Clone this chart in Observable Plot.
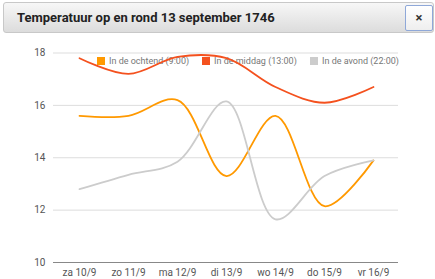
<!DOCTYPE html>
<html><head><meta charset="utf-8">
<script src="https://cdn.jsdelivr.net/npm/d3@7"></script>
<script src="https://cdn.jsdelivr.net/npm/@observablehq/plot@0.6"></script>
<style>
body{margin:0;background:#fff;width:435px;height:279px;overflow:hidden;font-family:Roboto,sans-serif;position:relative}
#hdr{position:absolute;left:3px;top:2px;width:431px;height:31px;border:1px solid #c8c8c8;border-radius:3px;background:linear-gradient(#f7f7f7,#dcdcdc);box-sizing:border-box}
#title{position:absolute;left:13px;top:7px;font-weight:bold;font-size:13px;color:#222}
#close{position:absolute;left:401px;top:2px;width:28px;height:26px;border:1px solid #8fa8d8;border-radius:2px;background:linear-gradient(#fff,#eee);box-sizing:border-box;text-align:center;font-weight:bold;font-size:13px;line-height:24px;color:#333}
#chart{position:absolute;left:0;top:35px}
#legend{position:absolute;top:56px;left:0;font-size:9px;color:#777}
.li{position:absolute;white-space:nowrap}
.sw{display:inline-block;width:8px;height:8px;margin-right:4px;vertical-align:-1px}
</style></head><body>
<div id="hdr"><div id="title">Temperatuur op en rond 13 september 1746</div><div id="close">×</div></div>
<div id="legend"></div>
<div id="chart"></div>
<script>
const days = ["za 10/9","zo 11/9","ma 12/9","di 13/9","wo 14/9","do 15/9","vr 16/9"];
const seriesNames = ["In de ochtend (9:00)","In de middag (13:00)","In de avond (22:00)"];
const seriesColors = ["#ff9900","#f4511e","#cccccc"];
const ochtend = [15.6,15.6,16.2,13.3,15.6,12.15,13.9];
const middag = [17.8,17.2,17.85,17.8,16.7,16.1,16.7];
const avond = [12.8,13.35,13.85,16.15,11.65,13.3,13.9];
const yTicks = [10,12,14,16,18];

const values = [ochtend, middag, avond];
const data = [];
values.forEach((arr,s)=>arr.forEach((v,i)=>data.push({day:days[i],value:v,series:seriesNames[s]})));

const legendX = [97,202,310];
const lg = document.getElementById("legend");
seriesNames.forEach((n,i)=>{
  const d=document.createElement("div");d.className="li";d.style.left=legendX[i]+"px";
  d.innerHTML=`<span class="sw" style="background:${seriesColors[i]}"></span>${n}`;
  lg.appendChild(d);
});

const plot = Plot.plot({
  width:435,height:244,
  marginLeft:53,marginRight:37,marginTop:17.5,marginBottom:17,
  style:{background:"transparent",fontFamily:"Roboto, sans-serif",fontSize:"10px",color:"#555"},
  x:{type:"point",domain:days,padding:0.5,label:null,tickSize:0,tickPadding:6},
  y:{domain:[10,18],ticks:yTicks,label:null,tickSize:0,tickPadding:8},
  color:{domain:seriesNames,range:seriesColors},
  marks:[
    Plot.ruleY(yTicks.filter(t=>t>10),{stroke:"#dddddd",strokeWidth:1}),
    Plot.ruleY([10],{stroke:"#888",strokeWidth:1}),
    Plot.line(data,{x:"day",y:"value",z:"series",stroke:"series",strokeWidth:1.8,curve:"catmull-rom"})
  ]
});
document.getElementById("chart").appendChild(plot);
</script>
</body></html>
